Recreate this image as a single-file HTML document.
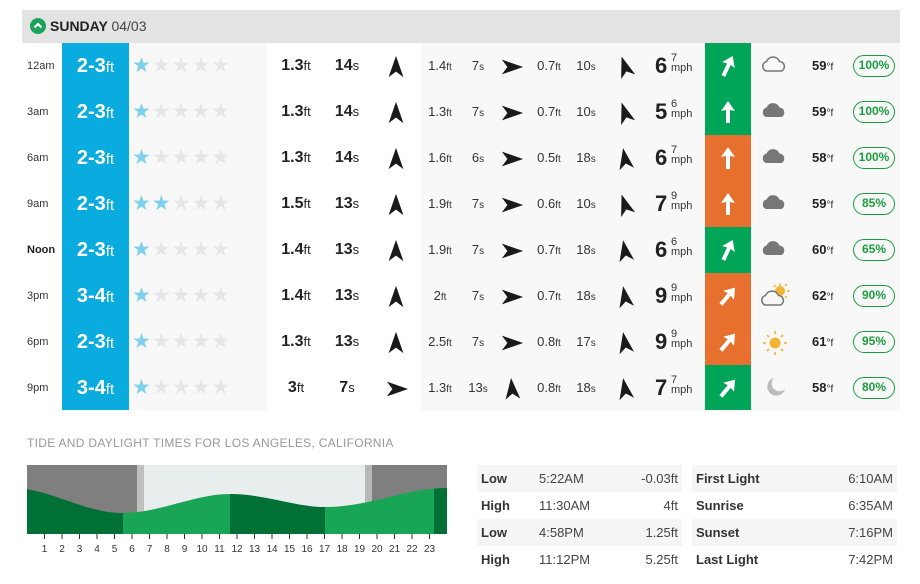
<!DOCTYPE html>
<html><head><meta charset="utf-8">
<style>
*{margin:0;padding:0;box-sizing:border-box}
body{width:920px;height:584px;background:#fff;font-family:"Liberation Sans",Arial,sans-serif;color:#222;position:relative;overflow:hidden}
.abs{position:absolute}
.hdr{left:22px;top:10px;width:878px;height:33px;background:#e3e3e3}
.hdr .t{position:absolute;left:28px;top:8px;font-size:14px;font-weight:bold;color:#222}
.hdr .t span{font-weight:normal;color:#444}
.bg1{left:129px;top:43px;width:138px;height:367px;background:#f8f8f8}
.bg2{left:421px;top:43px;width:479px;height:367px;background:#f8f8f8}
.blue{left:62px;top:43px;width:67px;height:367px;background:#0aabde}
.row{position:absolute;left:0;width:920px;height:46px}
.row>*{position:absolute;top:0;height:46px;line-height:46px;white-space:nowrap}
.tm{left:27px;font-size:11px;color:#333}
.sf{left:62px;width:67px;text-align:center;color:#fff;font-weight:bold;font-size:20px}
.sf small{font-size:15px;font-weight:normal}
.st{left:132px;font-size:21px;color:#e6e6e6;letter-spacing:1px}
.st b{color:#7ed0ef;font-weight:normal}
.big{font-size:16px;font-weight:bold;transform:translateX(-50%)}
.big small{font-size:13px;font-weight:normal}
.sm{font-size:13px;color:#333;transform:translateX(-50%)}
.sm small{font-size:10px}
.ar{top:12px;height:22px;line-height:0}
.wn{left:655px;font-size:22px;font-weight:bold}
.wu{left:671px;top:10px;height:auto;line-height:10px;font-size:11px;color:#333}
.wa{left:705px;width:46px;line-height:0}
.tp{left:812px;font-size:13px;font-weight:bold}
.tp small{font-size:10px;font-weight:normal}
.pc{left:853px;top:12px;height:22px;width:42px;line-height:18px;border:1.5px solid #1b9e3e;border-radius:11px;color:#1b9e3e;font-size:12px;text-align:center;font-weight:bold}
.ic{left:760px;top:11px;line-height:0}
.ttl{left:27px;top:436px;font-size:12px;color:#999;letter-spacing:.3px}
table{position:absolute;border-collapse:collapse;font-size:13px;color:#444}
td{height:27px;padding:0 4px}
tr:nth-child(odd) td{background:#f5f5f5}
td.b{font-weight:bold;color:#333}
td.r{text-align:right}
</style></head><body>
<svg width="0" height="0" style="position:absolute">
<defs>
<symbol id="na" viewBox="-10 -13 20 26"><polygon points="0,-12 8,11 0,5 -8,11" fill="#1a1a1a"/></symbol>
<symbol id="wa" viewBox="-12 -12 24 24"><polygon points="0,-11 7,-1 2,-2 2,11 -2,11 -2,-2 -7,-1" fill="#fff"/></symbol>
<symbol id="co" viewBox="0 0 28 20"><path d="M6,17 a5,5 0 0 1 0.5,-9.5 a7,7 0 0 1 13,0 a5,5 0 0 1 2,9.5 z" fill="none" stroke="#777" stroke-width="1.6"/></symbol>
<symbol id="cf" viewBox="0 0 28 20"><path d="M6,17 a5,5 0 0 1 0.5,-9.5 a7,7 0 0 1 13,0 a5,5 0 0 1 2,9.5 z" fill="#777"/></symbol>
</defs></svg>

<div class="abs hdr"><svg class="abs" style="left:8px;top:8px" width="16" height="16" viewBox="0 0 16 16"><circle cx="8" cy="8" r="8" fill="#1aa35a"/><polyline points="4.5,9.5 8,6 11.5,9.5" fill="none" stroke="#fff" stroke-width="2.2"/></svg><div class="t">SUNDAY <span>04/03</span></div></div>
<div class="abs bg1"></div><div class="abs bg2"></div><div class="abs blue"></div>
<div class="abs" style="left:705px;top:43px;width:46px;height:92px;background:#00a558"></div>
<div class="abs" style="left:705px;top:135px;width:46px;height:92px;background:#e8702f"></div>
<div class="abs" style="left:705px;top:227px;width:46px;height:46px;background:#00a558"></div>
<div class="abs" style="left:705px;top:273px;width:46px;height:92px;background:#e8702f"></div>
<div class="abs" style="left:705px;top:365px;width:46px;height:45px;background:#00a558"></div>

<!-- row 0 -->
<div class="row" style="top:43px">
<div class="tm">12am</div><div class="sf">2-3<small>ft</small></div><div class="st"><b>★</b>★★★★</div>
<div class="big" style="left:296px">1.3<small>ft</small></div><div class="big" style="left:347px">14<small>s</small></div>
<div class="ar" style="left:386px"><svg width="20" height="24"><use href="#na"/></svg></div>
<div class="sm" style="left:440px">1.4<small>ft</small></div><div class="sm" style="left:478px">7<small>s</small></div>
<div class="ar" style="left:500px"><svg width="24" height="24" style="transform:rotate(90deg)"><use href="#na"/></svg></div>
<div class="sm" style="left:549px">0.7<small>ft</small></div><div class="sm" style="left:586px">10<small>s</small></div>
<div class="ar" style="left:615px"><svg width="20" height="24" style="transform:rotate(-18deg)"><use href="#na"/></svg></div>
<div class="wn">6</div><div class="wu">7<br>mph</div>
<div class="wa"><svg width="46" height="46" viewBox="-23 -23 46 46"><g transform="rotate(25)"><use href="#wa" x="-12" y="-12" width="24" height="24"/></g></svg></div>
<div class="ic"><svg width="28" height="20"><use href="#co"/></svg></div>
<div class="tp">59<small>°f</small></div><div class="pc">100%</div>
</div>
<!-- row 1 -->
<div class="row" style="top:89px">
<div class="tm">3am</div><div class="sf">2-3<small>ft</small></div><div class="st"><b>★</b>★★★★</div>
<div class="big" style="left:296px">1.3<small>ft</small></div><div class="big" style="left:347px">14<small>s</small></div>
<div class="ar" style="left:386px"><svg width="20" height="24"><use href="#na"/></svg></div>
<div class="sm" style="left:440px">1.3<small>ft</small></div><div class="sm" style="left:478px">7<small>s</small></div>
<div class="ar" style="left:500px"><svg width="24" height="24" style="transform:rotate(90deg)"><use href="#na"/></svg></div>
<div class="sm" style="left:549px">0.7<small>ft</small></div><div class="sm" style="left:586px">10<small>s</small></div>
<div class="ar" style="left:615px"><svg width="20" height="24" style="transform:rotate(-18deg)"><use href="#na"/></svg></div>
<div class="wn">5</div><div class="wu">6<br>mph</div>
<div class="wa"><svg width="46" height="46" viewBox="-23 -23 46 46"><use href="#wa" x="-12" y="-12" width="24" height="24"/></svg></div>
<div class="ic"><svg width="28" height="20"><use href="#cf"/></svg></div>
<div class="tp">59<small>°f</small></div><div class="pc">100%</div>
</div>
<!-- row 2 -->
<div class="row" style="top:135px">
<div class="tm">6am</div><div class="sf">2-3<small>ft</small></div><div class="st"><b>★</b>★★★★</div>
<div class="big" style="left:296px">1.3<small>ft</small></div><div class="big" style="left:347px">14<small>s</small></div>
<div class="ar" style="left:386px"><svg width="20" height="24"><use href="#na"/></svg></div>
<div class="sm" style="left:440px">1.6<small>ft</small></div><div class="sm" style="left:478px">6<small>s</small></div>
<div class="ar" style="left:500px"><svg width="24" height="24" style="transform:rotate(90deg)"><use href="#na"/></svg></div>
<div class="sm" style="left:549px">0.5<small>ft</small></div><div class="sm" style="left:586px">18<small>s</small></div>
<div class="ar" style="left:615px"><svg width="20" height="24" style="transform:rotate(-10deg)"><use href="#na"/></svg></div>
<div class="wn">6</div><div class="wu">7<br>mph</div>
<div class="wa"><svg width="46" height="46" viewBox="-23 -23 46 46"><use href="#wa" x="-12" y="-12" width="24" height="24"/></svg></div>
<div class="ic"><svg width="28" height="20"><use href="#cf"/></svg></div>
<div class="tp">58<small>°f</small></div><div class="pc">100%</div>
</div>
<!-- row 3 -->
<div class="row" style="top:181px">
<div class="tm">9am</div><div class="sf">2-3<small>ft</small></div><div class="st"><b>★★</b>★★★</div>
<div class="big" style="left:296px">1.5<small>ft</small></div><div class="big" style="left:347px">13<small>s</small></div>
<div class="ar" style="left:386px"><svg width="20" height="24"><use href="#na"/></svg></div>
<div class="sm" style="left:440px">1.9<small>ft</small></div><div class="sm" style="left:478px">7<small>s</small></div>
<div class="ar" style="left:500px"><svg width="24" height="24" style="transform:rotate(90deg)"><use href="#na"/></svg></div>
<div class="sm" style="left:549px">0.6<small>ft</small></div><div class="sm" style="left:586px">10<small>s</small></div>
<div class="ar" style="left:615px"><svg width="20" height="24" style="transform:rotate(-18deg)"><use href="#na"/></svg></div>
<div class="wn">7</div><div class="wu">9<br>mph</div>
<div class="wa"><svg width="46" height="46" viewBox="-23 -23 46 46"><use href="#wa" x="-12" y="-12" width="24" height="24"/></svg></div>
<div class="ic"><svg width="28" height="20"><use href="#cf"/></svg></div>
<div class="tp">59<small>°f</small></div><div class="pc">85%</div>
</div>
<!-- row 4 -->
<div class="row" style="top:227px">
<div class="tm" style="font-weight:bold;color:#222">Noon</div><div class="sf">2-3<small>ft</small></div><div class="st"><b>★</b>★★★★</div>
<div class="big" style="left:296px">1.4<small>ft</small></div><div class="big" style="left:347px">13<small>s</small></div>
<div class="ar" style="left:386px"><svg width="20" height="24"><use href="#na"/></svg></div>
<div class="sm" style="left:440px">1.9<small>ft</small></div><div class="sm" style="left:478px">7<small>s</small></div>
<div class="ar" style="left:500px"><svg width="24" height="24" style="transform:rotate(90deg)"><use href="#na"/></svg></div>
<div class="sm" style="left:549px">0.7<small>ft</small></div><div class="sm" style="left:586px">18<small>s</small></div>
<div class="ar" style="left:615px"><svg width="20" height="24" style="transform:rotate(-10deg)"><use href="#na"/></svg></div>
<div class="wn">6</div><div class="wu">6<br>mph</div>
<div class="wa"><svg width="46" height="46" viewBox="-23 -23 46 46"><g transform="rotate(25)"><use href="#wa" x="-12" y="-12" width="24" height="24"/></g></svg></div>
<div class="ic"><svg width="28" height="20"><use href="#cf"/></svg></div>
<div class="tp">60<small>°f</small></div><div class="pc">65%</div>
</div>
<!-- row 5 -->
<div class="row" style="top:273px">
<div class="tm">3pm</div><div class="sf">3-4<small>ft</small></div><div class="st"><b>★</b>★★★★</div>
<div class="big" style="left:296px">1.4<small>ft</small></div><div class="big" style="left:347px">13<small>s</small></div>
<div class="ar" style="left:386px"><svg width="20" height="24"><use href="#na"/></svg></div>
<div class="sm" style="left:440px">2<small>ft</small></div><div class="sm" style="left:478px">7<small>s</small></div>
<div class="ar" style="left:500px"><svg width="24" height="24" style="transform:rotate(90deg)"><use href="#na"/></svg></div>
<div class="sm" style="left:549px">0.7<small>ft</small></div><div class="sm" style="left:586px">18<small>s</small></div>
<div class="ar" style="left:615px"><svg width="20" height="24" style="transform:rotate(-10deg)"><use href="#na"/></svg></div>
<div class="wn">9</div><div class="wu">9<br>mph</div>
<div class="wa"><svg width="46" height="46" viewBox="-23 -23 46 46"><g transform="rotate(40)"><use href="#wa" x="-12" y="-12" width="24" height="24"/></g></svg></div>
<div class="ic" style="top:9px"><svg width="32" height="26" viewBox="0 0 32 26"><g stroke="#f2b632" stroke-width="1.5"><line x1="20" y1="1" x2="20" y2="4"/><line x1="27" y1="9" x2="30" y2="9"/><line x1="25" y1="4" x2="27" y2="2"/><line x1="25" y1="14" x2="27" y2="16"/><line x1="14" y1="3" x2="15.5" y2="5"/></g><circle cx="20" cy="9" r="5" fill="#f2b632"/><path d="M5,23 a5,5 0 0 1 0.5,-9.5 a7,7 0 0 1 13,0 a5,5 0 0 1 2,9.5 z" fill="#f8f8f8" stroke="#777" stroke-width="1.6"/></svg></div>
<div class="tp">62<small>°f</small></div><div class="pc">90%</div>
</div>
<!-- row 6 -->
<div class="row" style="top:319px">
<div class="tm">6pm</div><div class="sf">2-3<small>ft</small></div><div class="st"><b>★</b>★★★★</div>
<div class="big" style="left:296px">1.3<small>ft</small></div><div class="big" style="left:347px">13<small>s</small></div>
<div class="ar" style="left:386px"><svg width="20" height="24"><use href="#na"/></svg></div>
<div class="sm" style="left:440px">2.5<small>ft</small></div><div class="sm" style="left:478px">7<small>s</small></div>
<div class="ar" style="left:500px"><svg width="24" height="24" style="transform:rotate(90deg)"><use href="#na"/></svg></div>
<div class="sm" style="left:549px">0.8<small>ft</small></div><div class="sm" style="left:586px">17<small>s</small></div>
<div class="ar" style="left:615px"><svg width="20" height="24" style="transform:rotate(-10deg)"><use href="#na"/></svg></div>
<div class="wn">9</div><div class="wu">9<br>mph</div>
<div class="wa"><svg width="46" height="46" viewBox="-23 -23 46 46"><g transform="rotate(40)"><use href="#wa" x="-12" y="-12" width="24" height="24"/></g></svg></div>
<div class="ic" style="top:11px;left:762px"><svg width="26" height="26" viewBox="-13 -13 26 26"><g stroke="#f2b632" stroke-width="1.6"><line x1="0" y1="-12" x2="0" y2="-9"/><line x1="0" y1="12" x2="0" y2="9"/><line x1="-12" y1="0" x2="-9" y2="0"/><line x1="12" y1="0" x2="9" y2="0"/><line x1="-8" y1="-8" x2="-6" y2="-6"/><line x1="8" y1="8" x2="6" y2="6"/><line x1="-8" y1="8" x2="-6" y2="6"/><line x1="8" y1="-8" x2="6" y2="-6"/></g><circle r="5.5" fill="#f2b632"/></svg></div>
<div class="tp">61<small>°f</small></div><div class="pc">95%</div>
</div>
<!-- row 7 -->
<div class="row" style="top:365px">
<div class="tm">9pm</div><div class="sf">3-4<small>ft</small></div><div class="st"><b>★</b>★★★★</div>
<div class="big" style="left:296px">3<small>ft</small></div><div class="big" style="left:347px">7<small>s</small></div>
<div class="ar" style="left:385px"><svg width="24" height="24" style="transform:rotate(90deg)"><use href="#na"/></svg></div>
<div class="sm" style="left:440px">1.3<small>ft</small></div><div class="sm" style="left:478px">13<small>s</small></div>
<div class="ar" style="left:502px"><svg width="20" height="24" style="transform:rotate(-5deg)"><use href="#na"/></svg></div>
<div class="sm" style="left:549px">0.8<small>ft</small></div><div class="sm" style="left:586px">18<small>s</small></div>
<div class="ar" style="left:615px"><svg width="20" height="24" style="transform:rotate(-10deg)"><use href="#na"/></svg></div>
<div class="wn">7</div><div class="wu">7<br>mph</div>
<div class="wa"><svg width="46" height="46" viewBox="-23 -23 46 46"><g transform="rotate(40)"><use href="#wa" x="-12" y="-12" width="24" height="24"/></g></svg></div>
<div class="ic" style="left:765px"><svg width="22" height="22" viewBox="0 0 22 22"><path d="M9,2 a9,9 0 1 0 11,11 a7,7 0 0 1 -11,-11 z" fill="#bbb"/></svg></div>
<div class="tp">58<small>°f</small></div><div class="pc">80%</div>
</div>

<div class="abs ttl">TIDE AND DAYLIGHT TIMES FOR LOS ANGELES, CALIFORNIA</div>
<svg class="abs" style="left:0;top:460px" width="460" height="100" viewBox="0 460 460 100">
<rect x="27" y="465" width="110" height="69" fill="#7f7f7f"/>
<rect x="137" y="465" width="7" height="69" fill="#c0c0c0"/>
<rect x="144" y="465" width="221" height="69" fill="#e8eded"/>
<rect x="365" y="465" width="7" height="69" fill="#b8b8b8"/>
<rect x="372" y="465" width="75" height="69" fill="#7f7f7f"/>
<clipPath id="tc"><path d="M27,489 C60,495 90,513 122,513 C160,513 195,494 230,494 C265,494 295,507 325,507 C370,507 405,488 447,488 L447,534 L27,534 Z"/></clipPath>
<g clip-path="url(#tc)">
<rect x="27" y="480" width="96" height="60" fill="#007035"/>
<rect x="123" y="480" width="107" height="60" fill="#19a556"/>
<rect x="230" y="480" width="95" height="60" fill="#007035"/>
<rect x="325" y="480" width="109" height="60" fill="#19a556"/>
<rect x="434" y="480" width="13" height="60" fill="#007035"/>
</g>
<g stroke="#333" stroke-width="1">
<line x1="44.5" y1="534" x2="44.5" y2="539"/><line x1="62" y1="534" x2="62" y2="539"/><line x1="79.5" y1="534" x2="79.5" y2="539"/><line x1="97" y1="534" x2="97" y2="539"/><line x1="114.5" y1="534" x2="114.5" y2="539"/><line x1="132" y1="534" x2="132" y2="539"/><line x1="149.5" y1="534" x2="149.5" y2="539"/><line x1="167" y1="534" x2="167" y2="539"/><line x1="184.5" y1="534" x2="184.5" y2="539"/><line x1="202" y1="534" x2="202" y2="539"/><line x1="219.5" y1="534" x2="219.5" y2="539"/><line x1="237" y1="534" x2="237" y2="539"/><line x1="254.5" y1="534" x2="254.5" y2="539"/><line x1="272" y1="534" x2="272" y2="539"/><line x1="289.5" y1="534" x2="289.5" y2="539"/><line x1="307" y1="534" x2="307" y2="539"/><line x1="324.5" y1="534" x2="324.5" y2="539"/><line x1="342" y1="534" x2="342" y2="539"/><line x1="359.5" y1="534" x2="359.5" y2="539"/><line x1="377" y1="534" x2="377" y2="539"/><line x1="394.5" y1="534" x2="394.5" y2="539"/><line x1="412" y1="534" x2="412" y2="539"/><line x1="429.5" y1="534" x2="429.5" y2="539"/>
</g>
<g font-family="Liberation Sans, sans-serif" font-size="10" fill="#333" text-anchor="middle">
<text x="44.5" y="552">1</text><text x="62" y="552">2</text><text x="79.5" y="552">3</text><text x="97" y="552">4</text><text x="114.5" y="552">5</text><text x="132" y="552">6</text><text x="149.5" y="552">7</text><text x="167" y="552">8</text><text x="184.5" y="552">9</text><text x="202" y="552">10</text><text x="219.5" y="552">11</text><text x="237" y="552">12</text><text x="254.5" y="552">13</text><text x="272" y="552">14</text><text x="289.5" y="552">15</text><text x="307" y="552">16</text><text x="324.5" y="552">17</text><text x="342" y="552">18</text><text x="359.5" y="552">19</text><text x="377" y="552">20</text><text x="394.5" y="552">21</text><text x="412" y="552">22</text><text x="429.5" y="552">23</text>
</g>
</svg>

<table style="left:477px;top:465px;width:205px">
<tr><td class="b" style="width:58px">Low</td><td>5:22AM</td><td class="r">-0.03ft</td></tr>
<tr><td class="b">High</td><td>11:30AM</td><td class="r">4ft</td></tr>
<tr><td class="b">Low</td><td>4:58PM</td><td class="r">1.25ft</td></tr>
<tr><td class="b">High</td><td>11:12PM</td><td class="r">5.25ft</td></tr>
</table>
<table style="left:692px;top:465px;width:205px">
<tr><td class="b">First Light</td><td class="r">6:10AM</td></tr>
<tr><td class="b">Sunrise</td><td class="r">6:35AM</td></tr>
<tr><td class="b">Sunset</td><td class="r">7:16PM</td></tr>
<tr><td class="b">Last Light</td><td class="r">7:42PM</td></tr>
</table>
</body></html>
